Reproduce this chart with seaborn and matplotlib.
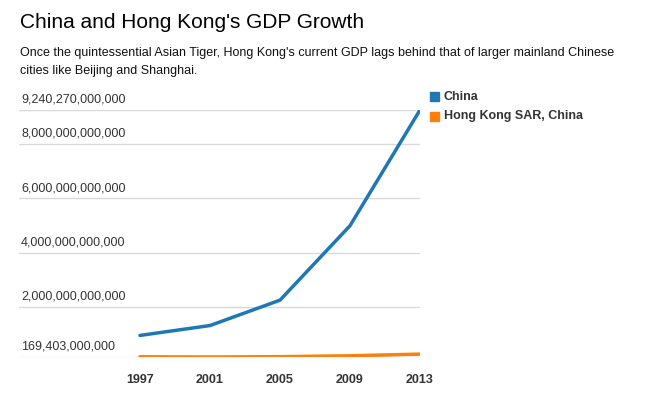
import numpy as np
import pandas as pd
import matplotlib
matplotlib.use("Agg")
import matplotlib.pyplot as plt
import seaborn as sns

years = [1997, 2001, 2005, 2009, 2013]
china_gdp = [961600000000, 1324800000000, 2256900000000, 4990500000000, 9240270000000]
hk_gdp = [177350000000, 169403000000, 181570000000, 214050000000, 275700000000]
series_names = ["China", "Hong Kong SAR, China"]
y_ticks = [169403000000, 2000000000000, 4000000000000, 6000000000000, 8000000000000, 9240270000000]

df = pd.DataFrame({
    "year": years * 2,
    "gdp": china_gdp + hk_gdp,
    "country": [series_names[0]] * len(years) + [series_names[1]] * len(years),
})

sns.set_style("white")
plt.rcParams["font.family"] = ["Liberation Sans", "DejaVu Sans"]

fig = plt.figure(figsize=(6.52, 3.95), dpi=100)
ax = fig.add_axes([19 / 652, 1 - 357 / 395, (420 - 19) / 652, (357 - 110) / 395])

palette = {"China": "#1f77b4", "Hong Kong SAR, China": "#ff7f0e"}
sns.lineplot(data=df, x="year", y="gdp", hue="country", palette=palette,
             linewidth=2.5, ax=ax, legend=False)

# 1997 sits ~121 px right of the axis start, 70 px per 4 years
ax.set_xlim(1997 - 121 / 17.5, 2013)
ax.set_ylim(y_ticks[0], y_ticks[-1])
ax.set_yticks(y_ticks)
ax.set_yticklabels([])
ax.tick_params(axis="both", length=0)
ax.grid(axis="y", color="#d9d9d9", linewidth=1)
ax.set_axisbelow(True)
for s in ax.spines.values():
    s.set_visible(False)

# y labels sit above the gridlines
for v in y_ticks:
    ax.annotate(f"{v:,}", xy=(0, v), xycoords=("axes fraction", "data"),
                xytext=(1.5, 3), textcoords="offset points",
                ha="left", va="bottom", fontsize=9, color="#333333")

ax.set_xticks(years)
ax.set_xticklabels([str(y) for y in years], fontsize=9, fontweight="bold", color="#333333")
ax.tick_params(axis="x", pad=12)
ax.set_xlabel("")
ax.set_ylabel("")

fig.text(20 / 652, 1 - 22 / 395, "China and Hong Kong's GDP Growth",
         fontsize=15, va="center", ha="left", color="#000000")
fig.text(20 / 652, 1 - 53 / 395,
         "Once the quintessential Asian Tiger, Hong Kong's current GDP lags behind that of larger mainland Chinese",
         fontsize=9, va="center", ha="left", color="#111111")
fig.text(20 / 652, 1 - 71 / 395, "cities like Beijing and Shanghai.",
         fontsize=9, va="center", ha="left", color="#111111")

# legend
for i, name in enumerate(series_names):
    yy = 1 - (97 + i * 19) / 395
    fig.patches.append(plt.Rectangle((430 / 652, yy - 4.5 / 395), 9 / 652, 9 / 395,
                                     transform=fig.transFigure, color=palette[name]))
    fig.text(444 / 652, yy, name, fontsize=9, fontweight="bold",
             va="center", ha="left", color="#333333")

fig.savefig("out.png", dpi=100)
